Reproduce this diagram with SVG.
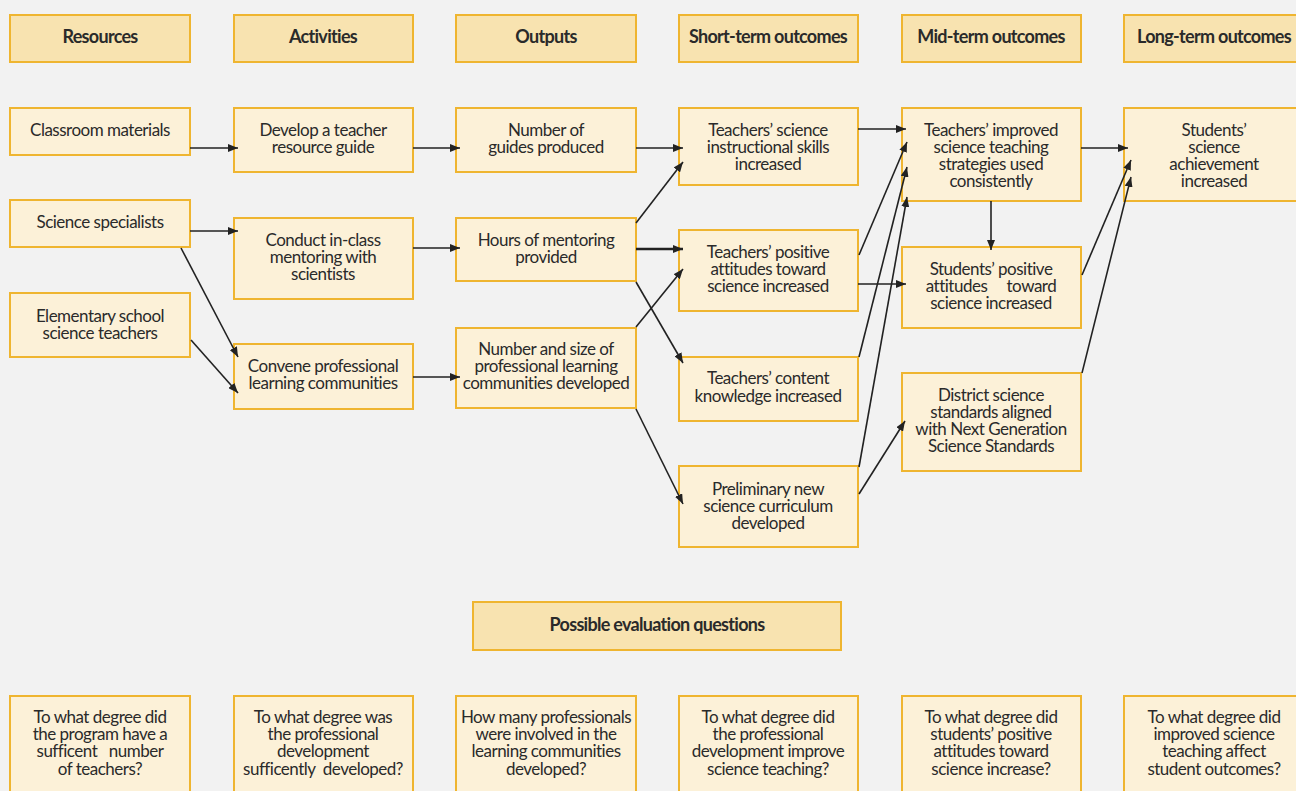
<svg xmlns="http://www.w3.org/2000/svg" width="1296" height="791" viewBox="0 0 1296 791">
<defs>
<marker id="ah" viewBox="0 0 10 8" refX="10" refY="4" markerWidth="10" markerHeight="8" markerUnits="userSpaceOnUse" orient="auto">
<path d="M0,0 L10,4 L0,8 z" fill="#222"/>
</marker>
<style>
.hdr rect{fill:#f8e3b0;stroke:#efb530;stroke-width:2}
.node rect{fill:#fcf1d8;stroke:#efb530;stroke-width:2}
text{font-family:Lato,"Liberation Sans",sans-serif;font-size:17px;fill:#2a2a2a;text-anchor:middle;letter-spacing:-0.5px}
.hdr text{font-weight:bold;font-size:18px;letter-spacing:-0.7px}
#edges line{stroke:#222;stroke-width:1.6;marker-end:url(#ah)}
</style>
</defs>
<rect x="0" y="0" width="1296" height="791" fill="#f2f2f2"/>

<g id="h-resources" class="hdr"><rect x="10" y="15" width="180" height="47"/><text x="100" y="43">Resources</text></g>
<g id="h-activities" class="hdr"><rect x="234" y="15" width="179" height="47"/><text x="323" y="43">Activities</text></g>
<g id="h-outputs" class="hdr"><rect x="456" y="15" width="180" height="47"/><text x="546" y="43">Outputs</text></g>
<g id="h-short" class="hdr"><rect x="679" y="15" width="179" height="47"/><text x="768" y="43">Short-term outcomes</text></g>
<g id="h-mid" class="hdr"><rect x="902" y="15" width="179" height="47"/><text x="991" y="43">Mid-term outcomes</text></g>
<g id="h-long" class="hdr"><rect x="1124" y="15" width="182" height="47"/><text x="1214" y="43">Long-term outcomes</text></g>

<g id="n-classroom" class="node"><rect x="10" y="108" width="180" height="47"/><text x="100" y="136">Classroom materials</text></g>
<g id="n-develop" class="node"><rect x="234" y="108" width="179" height="64"/><text x="323" y="136">Develop a teacher</text><text x="323" y="153">resource guide</text></g>
<g id="n-guides" class="node"><rect x="456" y="108" width="180" height="64"/><text x="546" y="136">Number of</text><text x="546" y="153">guides produced</text></g>
<g id="n-skills" class="node"><rect x="679" y="108" width="179" height="77"/><text x="768" y="136">Teachers’ science</text><text x="768" y="153">instructional skills</text><text x="768" y="170">increased</text></g>
<g id="n-improved" class="node"><rect x="902" y="108" width="179" height="93"/><text x="991" y="136">Teachers’ improved</text><text x="991" y="153">science teaching</text><text x="991" y="170">strategies used</text><text x="991" y="187">consistently</text></g>
<g id="n-achievement" class="node"><rect x="1124" y="108" width="182" height="93"/><text x="1214" y="136">Students’</text><text x="1214" y="153">science</text><text x="1214" y="170">achievement</text><text x="1214" y="187">increased</text></g>

<g id="n-specialists" class="node"><rect x="10" y="200" width="180" height="47"/><text x="100" y="228">Science specialists</text></g>
<g id="n-conduct" class="node"><rect x="234" y="218" width="179" height="81"/><text x="323" y="246">Conduct in-class</text><text x="323" y="263">mentoring with</text><text x="323" y="280">scientists</text></g>
<g id="n-hours" class="node"><rect x="456" y="218" width="180" height="63"/><text x="546" y="246">Hours of mentoring</text><text x="546" y="263">provided</text></g>
<g id="n-attitudes-t" class="node"><rect x="679" y="230" width="179" height="81"/><text x="768" y="258">Teachers’ positive</text><text x="768" y="275">attitudes toward</text><text x="768" y="292">science increased</text></g>
<g id="n-attitudes-s" class="node"><rect x="902" y="247" width="179" height="81"/><text x="991" y="275">Students’ positive</text><text x="991" y="292" xml:space="preserve">attitudes     toward</text><text x="991" y="309">science increased</text></g>

<g id="n-elementary" class="node"><rect x="10" y="293" width="180" height="64"/><text x="100" y="322">Elementary school</text><text x="100" y="339">science teachers</text></g>
<g id="n-convene" class="node"><rect x="234" y="344" width="179" height="65"/><text x="323" y="372">Convene professional</text><text x="323" y="389">learning communities</text></g>
<g id="n-plc" class="node"><rect x="456" y="328" width="180" height="80"/><text x="546" y="355">Number and size of</text><text x="546" y="372">professional learning</text><text x="546" y="389">communities developed</text></g>
<g id="n-content" class="node"><rect x="679" y="357" width="179" height="64"/><text x="768" y="384">Teachers’ content</text><text x="768" y="402">knowledge increased</text></g>
<g id="n-district" class="node"><rect x="902" y="373" width="179" height="98"/><text x="991" y="401">District science</text><text x="991" y="418">standards aligned</text><text x="991" y="435">with Next Generation</text><text x="991" y="452">Science Standards</text></g>
<g id="n-curriculum" class="node"><rect x="679" y="466" width="179" height="81"/><text x="768" y="495">Preliminary new</text><text x="768" y="512">science curriculum</text><text x="768" y="529">developed</text></g>

<g id="h-questions" class="hdr"><rect x="473" y="602" width="368" height="48"/><text x="657" y="631">Possible evaluation questions</text></g>

<g id="q1" class="node"><rect x="10" y="696" width="180" height="110"/><text x="100" y="723">To what degree did</text><text x="100" y="740">the program have a</text><text x="100" y="757" xml:space="preserve">sufficent   number</text><text x="100" y="775">of teachers?</text></g>
<g id="q2" class="node"><rect x="234" y="696" width="179" height="110"/><text x="323" y="723">To what degree was</text><text x="323" y="740">the professional</text><text x="323" y="757">development</text><text x="323" y="775" xml:space="preserve">sufficently  developed?</text></g>
<g id="q3" class="node"><rect x="456" y="696" width="180" height="110"/><text x="546" y="723">How many professionals</text><text x="546" y="740">were involved in the</text><text x="546" y="757">learning communities</text><text x="546" y="775">developed?</text></g>
<g id="q4" class="node"><rect x="679" y="696" width="179" height="110"/><text x="768" y="723">To what degree did</text><text x="768" y="740">the professional</text><text x="768" y="757">development improve</text><text x="768" y="775">science teaching?</text></g>
<g id="q5" class="node"><rect x="902" y="696" width="179" height="110"/><text x="991" y="723">To what degree did</text><text x="991" y="740">students’ positive</text><text x="991" y="757">attitudes toward</text><text x="991" y="775">science increase?</text></g>
<g id="q6" class="node"><rect x="1124" y="696" width="182" height="110"/><text x="1214" y="723">To what degree did</text><text x="1214" y="740">improved science</text><text x="1214" y="757">teaching affect</text><text x="1214" y="775">student outcomes?</text></g>

<g id="edges">
<line x1="190" y1="148" x2="238" y2="148"/>
<line x1="413" y1="148" x2="460" y2="148"/>
<line x1="636" y1="148" x2="683" y2="148"/>
<line x1="190" y1="231" x2="238" y2="231"/>
<line x1="181" y1="248" x2="238" y2="357"/>
<line x1="191" y1="340" x2="238" y2="393"/>
<line x1="413" y1="248" x2="460" y2="248"/>
<line x1="413" y1="377" x2="460" y2="377"/>
<line x1="636" y1="223" x2="683" y2="162"/>
<line x1="636" y1="249" x2="683" y2="249" style="stroke-width:2.6"/>
<line x1="636" y1="282" x2="683" y2="363"/>
<line x1="636" y1="327" x2="683" y2="269"/>
<line x1="636" y1="409" x2="683" y2="504"/>
<line x1="858" y1="129" x2="906" y2="129"/>
<line x1="859" y1="255" x2="907" y2="142"/>
<line x1="858" y1="284" x2="906" y2="284"/>
<line x1="859" y1="357" x2="907" y2="167"/>
<line x1="859" y1="467" x2="907" y2="197"/>
<line x1="859" y1="494" x2="905" y2="421"/>
<line x1="991" y1="201" x2="991" y2="250"/>
<line x1="1081" y1="148" x2="1128" y2="148"/>
<line x1="1082" y1="275" x2="1131" y2="160"/>
<line x1="1082" y1="373" x2="1131" y2="177"/>
</g>
</svg>
